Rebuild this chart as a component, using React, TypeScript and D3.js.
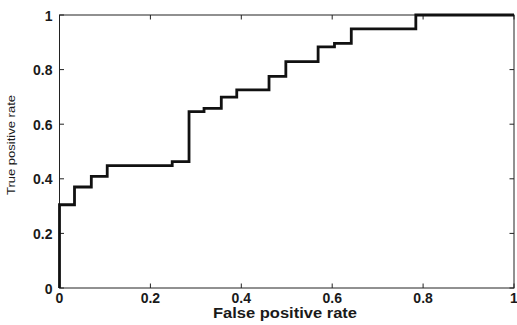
import React, { useEffect, useRef } from 'react';
import * as d3 from 'd3';

// ROC step points (false positive rate, true positive rate)
const fpr = [0, 0, 0.033, 0.033, 0.07, 0.07, 0.105, 0.105, 0.248, 0.248, 0.285, 0.285, 0.318, 0.318, 0.356, 0.356, 0.39, 0.39, 0.461, 0.461, 0.498, 0.498, 0.569, 0.569, 0.605, 0.605, 0.642, 0.642, 0.784, 0.784, 1];
const tpr = [0, 0.305, 0.305, 0.37, 0.37, 0.409, 0.409, 0.448, 0.448, 0.463, 0.463, 0.646, 0.646, 0.658, 0.658, 0.699, 0.699, 0.726, 0.726, 0.775, 0.775, 0.829, 0.829, 0.883, 0.883, 0.896, 0.896, 0.949, 0.949, 1, 1];
const xTicks = [0, 0.2, 0.4, 0.6, 0.8, 1];
const yTicks = [0, 0.2, 0.4, 0.6, 0.8, 1];
const xTitle = 'False positive rate';
const yTitle = 'True positive rate';

const W = 517;
const H = 325;

function RocChart() {
  const ref = useRef<SVGSVGElement>(null);

  useEffect(() => {
    const svg = d3.select(ref.current);
    svg.selectAll('*').remove();

    const margin = { top: 15, right: 3, bottom: 37, left: 59.5 };
    const w = W - margin.left - margin.right;
    const h = H - margin.top - margin.bottom;

    const x = d3.scaleLinear().domain([0, 1]).range([0, w]);
    const y = d3.scaleLinear().domain([0, 1]).range([h, 0]);

    const g = svg.append('g').attr('transform', `translate(${margin.left},${margin.top})`);

    const font = '"Liberation Sans", Arial, sans-serif';
    const tickLen = 4.5;
    const ink = '#1a1a1a';

    // box
    g.append('rect')
      .attr('x', 0).attr('y', 0).attr('width', w).attr('height', h)
      .attr('fill', 'none').attr('stroke', '#222').attr('stroke-width', 1);

    // inward ticks on all four sides
    xTicks.forEach(t => {
      g.append('line').attr('x1', x(t)).attr('x2', x(t)).attr('y1', h).attr('y2', h - tickLen).attr('stroke', '#222');
      g.append('line').attr('x1', x(t)).attr('x2', x(t)).attr('y1', 0).attr('y2', tickLen).attr('stroke', '#222');
    });
    yTicks.forEach(t => {
      g.append('line').attr('x1', 0).attr('x2', tickLen).attr('y1', y(t)).attr('y2', y(t)).attr('stroke', '#222');
      g.append('line').attr('x1', w).attr('x2', w - tickLen).attr('y1', y(t)).attr('y2', y(t)).attr('stroke', '#222');
    });

    // tick labels
    g.selectAll('.xl').data(xTicks).enter().append('text')
      .attr('x', d => x(d)).attr('y', h + 15)
      .attr('text-anchor', 'middle')
      .attr('font-family', font).attr('font-size', 14).attr('font-weight', 'bold').attr('fill', ink)
      .text(d => String(d));

    g.selectAll('.yl').data(yTicks).enter().append('text')
      .attr('x', -7).attr('y', d => y(d) + 5.5)
      .attr('text-anchor', 'end')
      .attr('font-family', font).attr('font-size', 14).attr('font-weight', 'bold').attr('fill', ink)
      .text(d => String(d));

    // curve
    const line = d3.line<number>().x((d, i) => x(fpr[i])).y(d => y(d));
    g.append('path').datum(tpr)
      .attr('d', line)
      .attr('fill', 'none').attr('stroke', '#111').attr('stroke-width', 2.8)
      .attr('stroke-linejoin', 'miter');

    // axis titles
    svg.append('text')
      .attr('x', 285).attr('y', 317.5)
      .attr('text-anchor', 'middle')
      .attr('textLength', 144).attr('lengthAdjust', 'spacingAndGlyphs')
      .attr('font-family', font).attr('font-size', 14).attr('font-weight', 'bold').attr('fill', ink)
      .text(xTitle);

    svg.append('text')
      .attr('transform', `translate(15,145) rotate(-90)`)
      .attr('text-anchor', 'middle')
      .attr('textLength', 100).attr('lengthAdjust', 'spacingAndGlyphs')
      .attr('font-family', font).attr('font-size', 10).attr('fill', ink)
      .text(yTitle);
  }, []);

  return <svg ref={ref} width={W} height={H} style={{ position: 'absolute', left: 0, top: 0, background: '#fff' }} />;
}

export default function App() {
  return <RocChart />;
}
